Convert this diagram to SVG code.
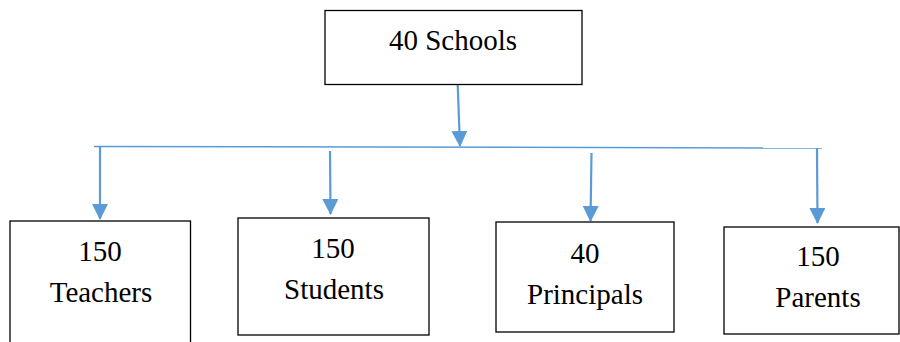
<svg xmlns="http://www.w3.org/2000/svg" width="900" height="342" viewBox="0 0 900 342">
<style>
.box{fill:#fff;stroke:#000;stroke-width:1.3}
.t{font-family:'Liberation Serif','DejaVu Serif',serif;font-size:29px;fill:#000;text-anchor:middle}
.c{stroke:#5B9BD5;stroke-width:2.2;fill:none}
.h{stroke:#5B9BD5;stroke-width:1.5;fill:none}
</style>
<defs>
<marker id="ah" markerUnits="userSpaceOnUse" markerWidth="16" markerHeight="16" viewBox="0 0 16 16" refX="15" refY="8" orient="auto">
<path d="M0,0 L16,8 L0,16 z" fill="#5B9BD5"/>
</marker>
</defs>
<rect width="900" height="342" fill="#fff"/>
<g id="connectors">
<line class="h" x1="94" y1="146.5" x2="822" y2="148"/>
<line class="c" x1="457.7" y1="85" x2="460" y2="146" marker-end="url(#ah)"/>
<line class="c" x1="100" y1="146.5" x2="100" y2="219" marker-end="url(#ah)"/>
<line class="c" x1="330" y1="151" x2="330.5" y2="214" marker-end="url(#ah)"/>
<line class="c" x1="591.5" y1="153" x2="590.5" y2="221" marker-end="url(#ah)"/>
<line class="c" x1="817" y1="148" x2="817.5" y2="223" marker-end="url(#ah)"/>
</g>
<g id="schools">
<rect class="box" x="325" y="10.5" width="257" height="74"/>
<text class="t" x="453" y="50" font-family="Liberation Serif, serif">40 Schools</text>
</g>
<g id="teachers">
<rect class="box" x="10" y="221" width="180.5" height="130"/>
<text class="t" x="100" y="261">150</text>
<text class="t" x="101" y="302">Teachers</text>
</g>
<g id="students">
<rect class="box" x="238" y="218" width="191" height="117"/>
<text class="t" x="333" y="258">150</text>
<text class="t" x="334" y="299">Students</text>
</g>
<g id="principals">
<rect class="box" x="496" y="222" width="178" height="110"/>
<text class="t" x="585" y="263">40</text>
<text class="t" x="585" y="304">Principals</text>
</g>
<g id="parents">
<rect class="box" x="724" y="227" width="175" height="107"/>
<text class="t" x="818" y="266">150</text>
<text class="t" x="818" y="307">Parents</text>
</g>
</svg>
